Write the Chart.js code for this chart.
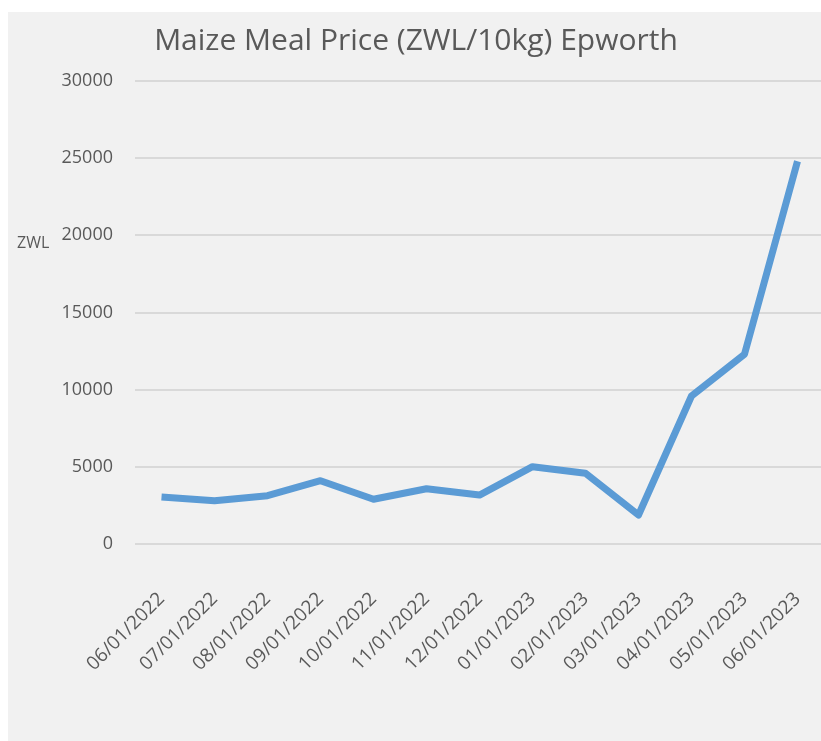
<!DOCTYPE html>
<html>
<head>
<meta charset="utf-8">
<script src="https://cdn.jsdelivr.net/npm/chart.js@4"></script>
<style>
  html, body { margin: 0; padding: 0; background: #ffffff; overflow: hidden; width: 821px; height: 741px; }
  #box { position: absolute; left: 8px; top: 12px; width: 824px; height: 729px; background: #f1f1f1; }
  canvas { display: block; }
</style>
</head>
<body>
<div id="box"><canvas id="c" width="824" height="729"></canvas></div>
<script>
const categories = ["06/01/2022","07/01/2022","08/01/2022","09/01/2022","10/01/2022","11/01/2022","12/01/2022","01/01/2023","02/01/2023","03/01/2023","04/01/2023","05/01/2023","06/01/2023"];
const prices = [3050, 2800, 3130, 4100, 2900, 3580, 3170, 5010, 4580, 1880, 9590, 12300, 24800];
const yMin = 0;
const yMax = 30000;
const yStep = 5000;
const chartTitle = "Maize Meal Price (ZWL/10kg) Epworth";
const yAxisLabel = "ZWL";

const FONT = "'Open Sans', 'Liberation Sans', sans-serif";
const TEXT = "#595959";

const zwlLabel = {
  id: 'zwlLabel',
  afterDraw(chart) {
    const ctx = chart.ctx;
    const y = chart.scales.y;
    ctx.save();
    ctx.font = "16px " + FONT;
    ctx.fillStyle = TEXT;
    ctx.textAlign = 'left';
    ctx.textBaseline = 'middle';
    ctx.fillText(yAxisLabel, 9, y.getPixelForValue(19500));
    ctx.restore();
  }
};

new Chart(document.getElementById('c'), {
  type: 'line',
  data: {
    labels: categories,
    datasets: [{
      data: prices,
      borderColor: '#5b9bd5',
      borderWidth: 7,
      pointRadius: 0,
      tension: 0,
      fill: false,
      borderJoinStyle: 'round',
      borderCapStyle: 'butt'
    }]
  },
  options: {
    responsive: false,
    animation: false,
    devicePixelRatio: 1,
    layout: { padding: { left: 0, right: 8, top: 0, bottom: 0 } },
    plugins: {
      legend: { display: false },
      tooltip: { enabled: false },
      title: {
        display: true,
        text: chartTitle,
        color: TEXT,
        font: { family: FONT, size: 30, weight: 'normal', lineHeight: 1.2 },
        padding: { top: 11, bottom: 22 }
      }
    },
    scales: {
      x: {
        offset: true,
        grid: { display: false, drawTicks: false },
        border: { display: false },
        ticks: {
          color: TEXT,
          font: { family: FONT, size: 19 },
          minRotation: 45,
          maxRotation: 45,
          padding: 44,
          autoSkip: false
        },
        afterFit(scale) { scale.height = 197; scale.paddingLeft = 0; scale.paddingRight = 0; }
      },
      y: {
        min: yMin,
        max: yMax,
        grid: { color: '#d9d9d9', lineWidth: 2, drawTicks: false },
        border: { display: false },
        ticks: {
          stepSize: yStep,
          color: TEXT,
          font: { family: FONT, size: 18 },
          padding: 22,
          callback: (v) => String(v)
        },
        afterFit(scale) { scale.width = 127; scale.paddingTop = 0; scale.paddingBottom = 0; }
      }
    }
  },
  plugins: [zwlLabel]
});
</script>
</body>
</html>
